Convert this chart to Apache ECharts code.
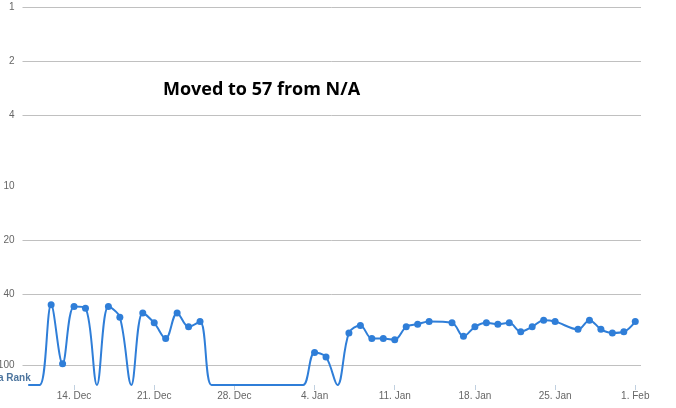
<!DOCTYPE html>
<html>
<head>
<meta charset="utf-8">
<script src="https://cdn.jsdelivr.net/npm/echarts@6/dist/echarts.min.js"></script>
<style>html,body{margin:0;padding:0;background:#fff}#c{width:676px;height:408px}</style>
</head>
<body>
<div id="c"></div>
<script>
// Categories: one per day
const days = ['10. Dec','11. Dec','12. Dec','13. Dec','14. Dec','15. Dec','16. Dec','17. Dec','18. Dec','19. Dec',
  '20. Dec','21. Dec','22. Dec','23. Dec','24. Dec','25. Dec','26. Dec','27. Dec','28. Dec','29. Dec',
  '30. Dec','31. Dec','1. Jan','2. Jan','3. Jan','4. Jan','5. Jan','6. Jan','7. Jan','8. Jan',
  '9. Jan','10. Jan','11. Jan','12. Jan','13. Jan','14. Jan','15. Jan','16. Jan','17. Jan','18. Jan',
  '19. Jan','20. Jan','21. Jan','22. Jan','23. Jan','24. Jan','25. Jan','26. Jan','27. Jan','28. Jan',
  '29. Jan','30. Jan','31. Jan','1. Feb'];
// 'N/A' = not ranked within the chart range (drawn at the axis floor); null = no sample that day
const NA = 'N/A';
const ranks = [NA, NA, 46, 98, 47, 48, NA, 47, 54, NA, 51, 58, 71, 51, 61, 57,
  NA, NA, NA, NA, NA, NA, NA, NA, NA,
  85, 90, NA, 66, 60, 71, 71, 72, 61, 59, 57, null,
  58, 69, 61, 58, 59, 58, 65, 61, 56, 57, null,
  63, 56, 63, 66, 65, 57];
const yLabelTicks = [1, 2, 4, 10, 20, 40, 100];
const yGridTicks = [1, 2, 4, 20, 40, 100];
const rankFloor = 129;
const annotation = 'Moved to 57 from N/A';
const axisTitle = 'a Rank';

const lg = v => Math.log10(v);
const seriesData = ranks.map(r => r === NA ? { value: lg(rankFloor), symbol: 'none' } : (r == null ? null : lg(r)));
const labelIdx = i => (i - 4) % 7 === 0;

const chart = echarts.init(document.getElementById('c'), null, { renderer: 'canvas' });
chart.setOption({
  animation: false,
  backgroundColor: '#fff',
  title: [
    { text: annotation, left: 163, top: 81, padding: 0, textStyle: { fontFamily: 'Open Sans', fontWeight: 'bold', fontSize: 18, color: '#000' } },
    { text: axisTitle, left: -2, top: 373, padding: 0, textStyle: { fontFamily: 'Liberation Sans', fontWeight: 'bold', fontSize: 10, color: '#4d759e' } }
  ],
  grid: { left: 22.5, right: 35, top: 7.3, bottom: 23, containLabel: false, outerBoundsMode: 'none' },
  xAxis: {
    type: 'category',
    data: days,
    position: 'bottom',
    boundaryGap: true,
    axisLine: { show: false, onZero: false },
    axisTick: { show: true, alignWithLabel: true, interval: labelIdx, length: 5, lineStyle: { color: '#c0d0e0' } },
    axisLabel: { interval: labelIdx, margin: 6, fontFamily: 'Liberation Sans', fontSize: 10, color: '#666' },
    splitLine: { show: false }
  },
  yAxis: {
    type: 'value',
    inverse: true,
    min: 0,
    max: lg(rankFloor),
    axisLine: { show: false },
    axisTick: { show: false, customValues: yGridTicks.map(lg) },
    axisLabel: {
      customValues: yLabelTicks.map(lg),
      formatter: v => String(Math.round(Math.pow(10, v))),
      margin: 8, fontFamily: 'Liberation Sans', fontSize: 10, color: '#666'
    },
    splitLine: { show: true, lineStyle: { color: '#c0c0c0', width: 1 } }
  },
  series: [{
    type: 'line',
    data: seriesData,
    smooth: 0.35,
    connectNulls: true,
    clip: true,
    symbol: 'circle',
    symbolSize: 7,
    lineStyle: { color: '#2f7ed8', width: 2 },
    itemStyle: { color: '#2f7ed8' }
  }]
});
</script>
</body>
</html>
